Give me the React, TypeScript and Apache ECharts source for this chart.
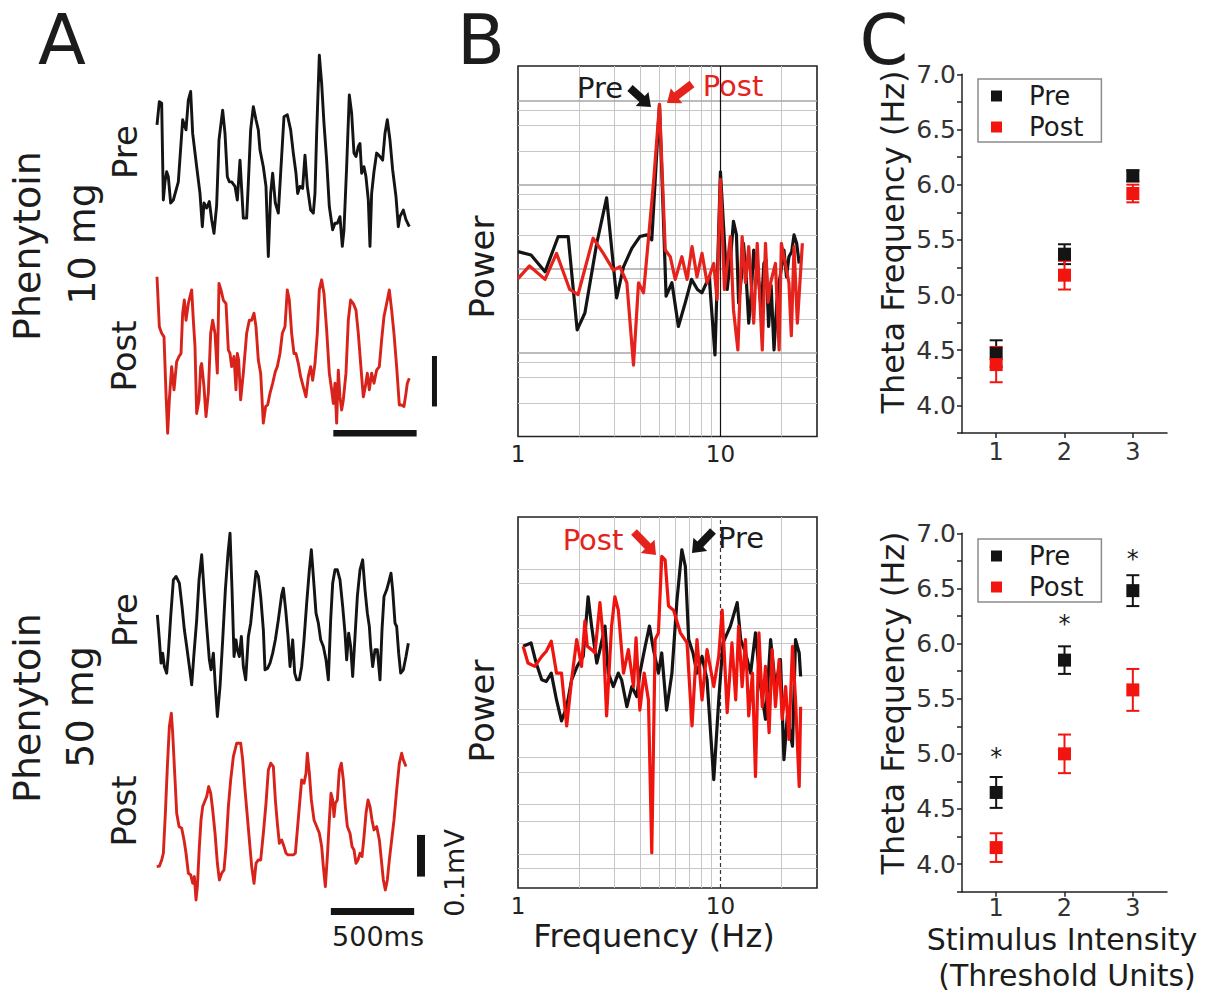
import React, { useEffect, useRef } from 'react';
import * as echarts from 'echarts';

const FONT = 'DejaVu Sans';
const BLACK = '#141414';
const RED_A = '#d8231b';
const RED_B = '#e5221b';
const RED_C = '#f2140f';
const TXT = '#1c1c1c';

// ---------- Panel A : raw field potentials, time (ms) / voltage (µV) ----------
const preTrace10 = [[0,63],[14,109],[28,106],[38,-86],[48,-50],[58,-30],[68,-40],[82,-92],[98,-86],[128,-50],[154,73],[174,53],[188,112],[202,129],[214,46],[238,-20],[258,-73],[272,-139],[282,-92],[298,-102],[314,-89],[328,-125],[342,-152],[358,-96],[372,33],[394,92],[408,46],[422,-40],[434,-50],[448,-50],[468,-59],[482,-86],[498,-7],[518,-122],[538,-122],[548,-53],[562,53],[578,99],[594,73],[608,53],[618,13],[638,-20],[654,-59],[668,-198],[682,-73],[694,-33],[710,-92],[728,-112],[742,-33],[762,79],[782,83],[802,53],[818,7],[834,-33],[844,-73],[858,-59],[874,-63],[888,3],[902,-59],[922,-106],[938,-112],[948,-73],[958,46],[974,201],[988,145],[1002,66],[1018,-7],[1034,-99],[1054,-145],[1068,-132],[1082,-132],[1098,-119],[1112,-178],[1122,-145],[1138,-20],[1154,122],[1168,86],[1182,7],[1194,0],[1208,20],[1218,26],[1228,-33],[1242,-20],[1254,-40],[1268,-86],[1278,-178],[1288,-73],[1302,-30],[1318,7],[1338,0],[1354,-7],[1368,46],[1382,73],[1398,33],[1414,-26],[1434,-79],[1448,-139],[1458,-119],[1478,-106],[1494,-125],[1514,-139]];

const postTrace10 = [[0,155],[14,56],[28,43],[42,36],[54,-76],[64,-155],[74,-89],[88,-23],[102,-69],[118,-13],[132,-3],[144,3],[154,83],[164,109],[174,69],[188,102],[198,116],[208,129],[218,69],[228,17],[238,-116],[252,-89],[262,-23],[268,-17],[282,-63],[294,-122],[308,-76],[322,43],[334,69],[348,43],[362,-36],[372,142],[384,129],[398,109],[414,102],[428,10],[438,3],[448,-23],[462,-3],[474,-69],[482,3],[490,-10],[502,-89],[518,-36],[538,43],[554,69],[568,69],[582,83],[594,56],[608,-10],[622,-36],[638,-135],[652,-102],[664,-99],[678,-76],[694,-56],[710,-33],[722,-23],[738,3],[752,43],[768,56],[782,129],[794,109],[808,43],[822,3],[834,3],[848,-17],[862,-43],[878,-63],[894,-83],[908,-43],[922,-23],[934,-50],[948,-17],[962,43],[974,129],[988,149],[1002,122],[1018,50],[1034,-36],[1048,-69],[1058,-96],[1068,-56],[1078,-135],[1088,-30],[1098,-83],[1108,-109],[1118,-89],[1134,-36],[1148,69],[1162,109],[1178,102],[1194,89],[1208,43],[1222,-17],[1238,-83],[1250,-63],[1262,-36],[1274,-69],[1288,-36],[1302,-56],[1318,-30],[1334,-23],[1348,30],[1362,76],[1378,102],[1394,129],[1408,89],[1422,43],[1438,-23],[1454,-99],[1468,-99],[1482,-102],[1494,-76],[1502,-56],[1514,-46]];

const preTrace50 = [[4,26],[16,-34],[26,-90],[36,-66],[46,-98],[60,-114],[70,-66],[84,22],[100,110],[116,118],[136,102],[152,46],[166,-10],[180,-50],[196,-98],[210,-142],[224,-66],[240,14],[254,110],[270,170],[284,86],[300,-2],[316,-82],[326,-106],[340,-66],[352,-146],[364,-218],[380,-146],[396,-34],[412,86],[428,174],[440,222],[452,86],[464,-74],[476,-34],[484,-58],[496,-74],[508,-26],[520,-98],[534,-130],[550,-26],[564,6],[580,70],[596,130],[610,118],[624,70],[640,-10],[650,-106],[666,-102],[680,-90],[696,-66],[712,-34],[730,14],[750,74],[760,90],[774,38],[788,-26],[800,-98],[816,-34],[828,-114],[840,-130],[856,-130],[870,-98],[884,-34],[900,54],[916,134],[928,182],[940,118],[956,30],[970,6],[984,-34],[1000,-50],[1016,-82],[1030,-130],[1044,14],[1056,102],[1070,134],[1084,134],[1100,110],[1116,46],[1130,-18],[1140,-82],[1152,-18],[1164,-50],[1176,-122],[1190,-26],[1204,70],[1220,134],[1236,158],[1250,86],[1264,30],[1276,-2],[1284,-50],[1296,-98],[1310,-58],[1324,-58],[1340,-130],[1352,-10],[1364,70],[1380,86],[1396,110],[1406,126],[1416,86],[1430,6],[1440,-2],[1452,-66],[1464,-114],[1480,-106],[1496,-74],[1510,-42]];

const postTrace50 = [[0,-146],[16,-145],[30,-130],[40,-114],[52,-18],[64,94],[76,190],[88,222],[96,174],[108,78],[120,-18],[134,-50],[150,-54],[164,-82],[176,-114],[190,-162],[204,-166],[216,-186],[226,-170],[236,-226],[244,-194],[256,-98],[266,-34],[276,-2],[288,10],[300,22],[312,46],[324,30],[336,-10],[350,-66],[364,-138],[376,-178],[390,-162],[404,-154],[416,-98],[430,-2],[444,62],[460,118],[480,150],[504,150],[516,110],[530,38],[544,-26],[556,-82],[570,-146],[584,-186],[596,-138],[610,-130],[624,-130],[640,-66],[656,6],[670,86],[684,102],[700,94],[712,14],[724,-42],[736,-90],[750,-82],[764,-98],[776,-114],[788,-118],[804,-118],[820,-118],[832,-114],[844,-58],[856,-2],[870,62],[884,54],[896,78],[904,126],[916,78],[928,14],[944,-34],[960,-50],[976,-66],[990,-98],[1000,-146],[1012,-194],[1024,-122],[1036,-34],[1046,30],[1056,14],[1064,-26],[1072,6],[1084,14],[1096,86],[1108,102],[1120,62],[1132,-2],[1144,-50],[1160,-66],[1172,-98],[1184,-106],[1196,-138],[1208,-130],[1220,-114],[1232,-122],[1244,-74],[1256,-18],[1268,14],[1280,-2],[1292,-34],[1304,-58],[1320,-50],[1336,-82],[1348,-130],[1360,-178],[1372,-202],[1384,-178],[1396,-130],[1410,-82],[1424,-34],[1440,38],[1456,102],[1470,126],[1480,110],[1496,94]];

// scale bars (ms, µV)
const timeBar10 = [[1058,-155],[1558,-155]];
const voltBar10 = [[1665,-2],[1665,-102]];
const timeBar50 = [[1045,-254],[1545,-254]];
const voltBar50 = [[1586,-70],[1586,-170]];

// ---------- Panel B : power spectra, [frequency Hz, log10 power (a.u.)] ----------
const preSpectrum10 = [[1.0,2.20],[1.16,2.16],[1.36,1.96],[1.58,2.38],[1.77,2.38],[1.96,1.27],[2.14,1.47],[2.45,2.30],[2.74,2.84],[3.07,1.65],[3.32,2.02],[3.65,2.24],[4.0,2.38],[4.33,2.40],[4.58,2.34],[5.0,3.95],[5.39,1.67],[5.76,1.83],[6.2,1.31],[6.7,1.59],[7.2,1.87],[7.7,1.75],[8.1,1.71],[8.8,1.90],[9.4,0.97],[10.0,3.15],[10.8,1.75],[11.2,2.1],[11.6,2.56],[12.0,2.4],[12.3,1.59],[12.7,1.9],[13.0,2.30],[13.4,1.9],[13.8,1.35],[14.2,1.7],[14.6,2.22],[15.0,2.0],[15.5,1.83],[15.9,1.5],[16.4,2.06],[16.8,2.1],[17.3,1.31],[17.8,1.8],[18.4,1.03],[19.0,1.6],[19.5,1.83],[20.0,2.0],[20.6,2.22],[21.2,1.9],[21.8,2.14],[22.5,2.2],[23.1,2.40],[23.8,2.3],[24.5,2.06]];

const postSpectrum10 = [[1.0,1.88],[1.14,2.03],[1.36,1.87],[1.55,2.18],[1.80,1.75],[1.98,1.69],[2.35,2.36],[2.64,2.18],[2.96,1.98],[3.19,2.02],[3.45,1.83],[3.72,0.85],[3.94,1.83],[4.17,1.71],[4.33,2.14],[4.67,3.02],[5.0,3.95],[5.34,2.22],[5.65,2.14],[5.98,1.87],[6.45,2.14],[6.84,1.87],[7.24,2.26],[7.66,1.90],[8.11,2.18],[8.59,1.83],[9.27,2.06],[9.62,1.63],[10.0,3.06],[10.47,1.75],[11.2,2.38],[11.6,1.51],[12.2,1.03],[12.8,2.38],[13.3,1.83],[13.8,2.26],[14.6,1.35],[15.2,2.30],[16.1,1.03],[16.7,2.30],[17.2,1.6],[17.7,1.83],[18.7,2.06],[19.5,1.03],[20.0,2.3],[20.6,2.14],[21.8,1.83],[22.4,1.2],[23.1,2.26],[24.0,1.35],[25.4,2.30]];

const preSpectrum50 = [[1.06,2.88],[1.16,2.92],[1.23,2.68],[1.31,2.48],[1.38,2.46],[1.46,2.56],[1.55,2.24],[1.64,1.99],[1.74,2.16],[1.84,2.48],[1.96,2.64],[2.10,2.76],[2.22,3.47],[2.31,3.12],[2.45,2.68],[2.54,2.84],[2.69,3.12],[2.79,2.56],[2.96,2.40],[3.13,2.56],[3.25,2.48],[3.45,2.16],[3.65,2.40],[3.86,2.28],[4.0,2.56],[4.25,2.88],[4.46,3.12],[4.67,2.84],[4.94,2.56],[5.13,2.80],[5.42,2.12],[5.76,2.56],[6.10,3.43],[6.45,4.03],[6.71,3.83],[6.97,2.96],[7.32,2.80],[7.66,2.56],[8.11,2.76],[8.59,2.48],[9.27,1.29],[9.81,2.24],[10.3,2.92],[11.2,3.12],[12.1,3.40],[12.6,2.96],[13.3,2.80],[14.1,2.56],[14.9,3.04],[15.8,2.40],[16.7,2.01],[17.7,2.96],[18.7,2.40],[19.8,2.72],[20.6,1.53],[21.4,2.05],[22.7,1.69],[23.5,2.96],[24.5,2.80],[24.9,2.52]];

const postSpectrum50 = [[1.06,2.88],[1.12,2.68],[1.21,2.64],[1.31,2.76],[1.38,2.82],[1.46,2.94],[1.55,2.56],[1.64,2.56],[1.74,1.93],[1.84,2.48],[1.95,2.96],[2.06,2.64],[2.14,3.18],[2.20,2.88],[2.31,2.84],[2.40,2.80],[2.54,3.40],[2.64,2.96],[2.74,2.05],[2.90,3.12],[3.01,3.47],[3.13,3.31],[3.32,2.56],[3.51,2.84],[3.72,2.40],[3.83,2.98],[4.0,2.12],[4.20,2.56],[4.41,2.24],[4.58,0.42],[4.76,2.96],[4.94,3.04],[5.13,3.95],[5.33,3.91],[5.54,3.36],[5.87,3.31],[6.34,3.04],[6.84,2.92],[7.24,1.93],[7.66,2.96],[8.11,2.24],[8.59,2.84],[9.27,2.40],[9.81,2.76],[10.2,3.31],[10.8,2.09],[11.4,2.92],[11.9,2.24],[12.3,3.12],[12.8,2.40],[13.3,2.96],[13.8,2.05],[14.4,2.56],[14.9,1.33],[15.5,3.04],[16.1,2.16],[16.7,2.64],[17.4,1.85],[18.0,2.84],[18.7,2.16],[19.5,2.72],[20.2,2.01],[21.0,2.40],[21.8,1.77],[22.7,2.88],[23.5,2.24],[24.5,1.21],[24.9,2.16]];

// gridline levels of the spectra plots
const freqGridHz = [2, 3, 4, 5, 6, 7, 8, 9, 20];
const freqMarkHz = 10;
const powerMinorTop = [0.398, 0.699, 0.875, 1.398, 1.699, 1.875, 2.398, 2.699, 2.875, 3.398, 3.699, 3.875];
const powerMajorTop = [1, 2, 3, 4];
const powerGridBottom = [0.24, 0.40, 0.80, 1.0, 1.375, 1.56, 1.95, 2.13, 2.53, 2.92, 3.09, 3.25, 3.63, 3.80];

// ---------- Panel C : theta frequency (Hz) vs stimulus intensity ----------
const intensity = [1, 2, 3];
const pre10Hz = [4.47, 5.37, 6.08];
const pre10Err = [0.12, 0.09, 0.05];
const post10Hz = [4.37, 5.18, 5.92];
const post10Err = [0.16, 0.13, 0.08];
const pre50Hz = [4.65, 5.85, 6.48];
const pre50Err = [0.14, 0.125, 0.14];
const post50Hz = [4.15, 5.00, 5.58];
const post50Err = [0.13, 0.175, 0.19];
const starLevels50 = [5.02, 6.22, 6.81];

function txt(text: string, x: number, y: number, size: number, color = TXT, rot = 0, lineHeight?: number) {
  return {
    type: 'text', x, y, rotation: rot, z: 100,
    style: { text, fontSize: size, fontFamily: FONT, fill: color, align: 'center', verticalAlign: 'middle', lineHeight: lineHeight ?? size },
  };
}

function arrow(x0: number, y0: number, x1: number, y1: number, color: string) {
  const dx = x1 - x0, dy = y1 - y0;
  const len = Math.hypot(dx, dy);
  const ux = dx / len, uy = dy / len;
  const nx = -uy, ny = ux;
  const shaft = 8, head = 19, headL = 12;
  const bx = x1 - ux * headL, by = y1 - uy * headL;
  const pts = [
    [x0 + nx * shaft / 2, y0 + ny * shaft / 2],
    [bx + nx * shaft / 2, by + ny * shaft / 2],
    [bx + nx * head / 2, by + ny * head / 2],
    [x1, y1],
    [bx - nx * head / 2, by - ny * head / 2],
    [bx - nx * shaft / 2, by - ny * shaft / 2],
    [x0 - nx * shaft / 2, y0 - ny * shaft / 2],
  ];
  return { type: 'polygon', z: 100, shape: { points: pts }, style: { fill: color } };
}

function traceSeries(name: string, idx: number, data: number[][], color: string, width = 2.9) {
  return {
    name, type: 'line', xAxisIndex: idx, yAxisIndex: idx, data, showSymbol: false, symbol: 'none',
    clip: false, z: 3, lineStyle: { color, width, join: 'round' }, emphasis: { disabled: true },
  };
}

function gridMarkLines(minor: number[], major: number[], tenStyle: any) {
  const minorStyle = { color: '#c6c6c6', width: 1, type: 'solid' };
  const majorStyle = { color: '#a6a6a6', width: 1.6, type: 'solid' };
  return {
    silent: true, symbol: ['none', 'none'], z: 1, label: { show: false }, emphasis: { disabled: true },
    data: [
      ...freqGridHz.map((f) => ({ xAxis: f, lineStyle: minorStyle })),
      ...minor.map((v) => ({ yAxis: v, lineStyle: minorStyle })),
      ...major.map((v) => ({ yAxis: v, lineStyle: majorStyle })),
      { xAxis: freqMarkHz, lineStyle: tenStyle },
    ],
  };
}

function errorBars(name: string, idx: number, vals: number[], errs: number[], color: string) {
  return {
    name, type: 'custom', xAxisIndex: idx, yAxisIndex: idx, z: 3,
    data: intensity.map((x, i) => [x, vals[i], errs[i]]),
    encode: { x: 0, y: 1 },
    renderItem: (_p: any, api: any) => {
      const x = api.value(0), y = api.value(1), e = api.value(2);
      const a = api.coord([x, y + e]);
      const b = api.coord([x, y - e]);
      const c = 6.5;
      const st = { stroke: color, lineWidth: 2 };
      return {
        type: 'group',
        children: [
          { type: 'line', shape: { x1: a[0], y1: a[1], x2: b[0], y2: b[1] }, style: st },
          { type: 'line', shape: { x1: a[0] - c, y1: a[1], x2: a[0] + c, y2: a[1] }, style: st },
          { type: 'line', shape: { x1: b[0] - c, y1: b[1], x2: b[0] + c, y2: b[1] }, style: st },
        ],
      };
    },
  };
}

function squares(name: string, idx: number, vals: number[], color: string) {
  return {
    name, type: 'scatter', xAxisIndex: idx, yAxisIndex: idx, z: 4, symbol: 'rect', symbolSize: 13,
    itemStyle: { color, opacity: 1 }, emphasis: { disabled: true },
    data: intensity.map((x, i) => [x, vals[i]]),
  };
}

function buildOption() {
  const hiddenX = (gridIndex: number) => ({ type: 'value', gridIndex, min: 0, max: 1700, show: false });
  const hiddenY = (gridIndex: number, m: number) => ({ type: 'value', gridIndex, min: -m, max: m, show: false });
  const logX = (gridIndex: number) => ({
    type: 'log', logBase: 10, gridIndex, min: 1, max: 30,
    axisLine: { show: false }, axisTick: { show: false }, splitLine: { show: false },
    axisLabel: {
      fontSize: 23, fontFamily: FONT, color: '#222', margin: 6,
      formatter: (v: number) => (Math.abs(v - 1) < 1e-6 ? '1' : Math.abs(v - 10) < 1e-6 ? '10' : ''),
    },
  });
  const powerY = (gridIndex: number, max: number) => ({ type: 'value', gridIndex, min: 0, max, show: false });
  const cX = (gridIndex: number, margin: number) => ({
    type: 'value', gridIndex, min: 0.5, max: 3.5, interval: 0.5,
    axisLine: { show: true, onZero: false, lineStyle: { color: '#222', width: 1.5 } },
    axisTick: { show: true, length: 5, customValues: intensity, lineStyle: { color: '#222', width: 1.5 } },
    splitLine: { show: false },
    axisLabel: {
      fontSize: 24, lineHeight: 18, fontFamily: FONT, color: '#333', margin,
      formatter: (v: number) => (Math.abs(v - Math.round(v)) < 1e-6 ? String(Math.round(v)) : ''),
    },
  });
  const cY = (gridIndex: number) => ({
    type: 'value', gridIndex, min: 3.75, max: 7.0, interval: 0.25,
    axisLine: { show: true, onZero: false, lineStyle: { color: '#222', width: 1.5 } },
    axisTick: { show: true, length: 5, lineStyle: { color: '#222', width: 1.5 } },
    splitLine: { show: false },
    axisLabel: {
      fontSize: 25, fontFamily: FONT, color: '#333', margin: 6,
      formatter: (v: number) => (v > 3.9 && Math.abs(v * 2 - Math.round(v * 2)) < 1e-6 ? v.toFixed(1) : ''),
    },
  });

  const legendC = (top: number) => ({
    orient: 'vertical', left: 978, top, selectedMode: false,
    data: [{ name: 'Pre', icon: 'rect' }, { name: 'Post', icon: 'rect' }],
    itemWidth: 11, itemHeight: 11, itemGap: 5,
    padding: [4, 18, 2, 13],
    borderColor: '#8c8c8c', borderWidth: 1.5,
    textStyle: { fontSize: 26, fontFamily: FONT, color: TXT, lineHeight: 26, padding: [0, 0, 0, 22] },
  });

  const boxB = { show: true, borderColor: '#222', borderWidth: 1.6, backgroundColor: 'transparent' };

  return {
    animation: false,
    backgroundColor: '#ffffff',
    textStyle: { fontFamily: FONT },
    grid: [
      { left: 157, top: 45.6, width: 283.3, height: 222 },
      { left: 157, top: 244, width: 283.3, height: 222 },
      { left: 156.7, top: 517.3, width: 283.3, height: 216.7 },
      { left: 156.7, top: 697.4, width: 283.3, height: 216.7 },
      { left: 518, top: 66, width: 299, height: 370.5, ...boxB },
      { left: 518, top: 517, width: 299, height: 371, ...boxB },
      { left: 962, top: 74.3, width: 205, height: 358.7 },
      { left: 962, top: 533.3, width: 205, height: 358.4 },
    ],
    xAxis: [hiddenX(0), hiddenX(1), hiddenX(2), hiddenX(3), logX(4), logX(5), cX(6, 10), cX(7, 7)],
    yAxis: [hiddenY(0, 220), hiddenY(1, 220), hiddenY(2, 260), hiddenY(3, 260), powerY(4, 4.41), powerY(5, 4.42), cY(6), cY(7)],
    legend: [legendC(79), legendC(539)],
    series: [
      traceSeries('Pre trace, 10 mg', 0, preTrace10, BLACK),
      traceSeries('Post trace, 10 mg', 1, postTrace10, RED_A),
      traceSeries('Pre trace, 50 mg', 2, preTrace50, BLACK),
      traceSeries('Post trace, 50 mg', 3, postTrace50, RED_A),
      traceSeries('100 µV bar, 10 mg', 1, voltBar10, BLACK, 5),
      traceSeries('500 ms bar, 10 mg', 1, timeBar10, BLACK, 6.5),
      traceSeries('100 µV bar, 50 mg', 3, voltBar50, BLACK, 8),
      traceSeries('500 ms bar, 50 mg', 3, timeBar50, BLACK, 7),
      {
        ...traceSeries('Pre spectrum, 10 mg', 4, preSpectrum10, BLACK, 3.2),
        markLine: gridMarkLines(powerMinorTop, powerMajorTop, { color: '#111', width: 1.2, type: 'solid' }),
      },
      traceSeries('Post spectrum, 10 mg', 4, postSpectrum10, RED_B, 3.2),
      {
        ...traceSeries('Pre spectrum, 50 mg', 5, preSpectrum50, BLACK, 3.2),
        markLine: gridMarkLines(powerGridBottom, [], { color: '#333', width: 1.2, type: [4, 3] }),
      },
      traceSeries('Post spectrum, 50 mg', 5, postSpectrum50, '#f0140f', 3.2),
      errorBars('Pre SEM, 10 mg', 6, pre10Hz, pre10Err, BLACK),
      errorBars('Post SEM, 10 mg', 6, post10Hz, post10Err, RED_C),
      squares('Pre', 6, pre10Hz, BLACK),
      squares('Post', 6, post10Hz, RED_C),
      errorBars('Pre SEM, 50 mg', 7, pre50Hz, pre50Err, BLACK),
      errorBars('Post SEM, 50 mg', 7, post50Hz, post50Err, RED_C),
      squares('Pre', 7, pre50Hz, BLACK),
      squares('Post', 7, post50Hz, RED_C),
      {
        name: 'Significance', type: 'scatter', xAxisIndex: 7, yAxisIndex: 7, symbolSize: 0, z: 5,
        itemStyle: { opacity: 1 },
        data: intensity.map((x, i) => [x, starLevels50[i]]),
        label: { show: true, position: 'inside', formatter: '*', fontSize: 24, fontFamily: FONT, color: '#1c1c1c', offset: [0, 5] },
        emphasis: { disabled: true },
      },
    ],
    graphic: [
      txt('A', 62, 40, 70, TXT, 0, 56),
      txt('B', 481, 40, 70, TXT, 0, 56),
      txt('C', 884, 40, 70, TXT, 0, 56),
      txt('Phenytoin', 27, 246, 38, TXT, Math.PI / 2),
      txt('10 mg', 82, 244, 38, TXT, Math.PI / 2),
      txt('Phenytoin', 27, 708, 38, TXT, Math.PI / 2),
      txt('50 mg', 80, 707, 38, TXT, Math.PI / 2),
      txt('Pre', 125, 152, 34, TXT, Math.PI / 2),
      txt('Post', 124, 356, 34, TXT, Math.PI / 2),
      txt('Pre', 125, 620, 34, TXT, Math.PI / 2),
      txt('Post', 124, 811, 34, TXT, Math.PI / 2),
      txt('500ms', 378, 936.5, 27),
      txt('0.1mV', 454, 873, 27, TXT, Math.PI / 2),
      txt('Power', 481.5, 267, 34, TXT, Math.PI / 2),
      txt('Power', 481.5, 711, 34, TXT, Math.PI / 2),
      txt('Frequency (Hz)', 654, 936, 32),
      txt('Pre', 600, 87.5, 29),
      txt('Post', 733, 86, 29, RED_B),
      arrow(630, 88, 651, 107, BLACK),
      arrow(692, 84, 667, 103, RED_B),
      txt('Post', 593, 540, 29, RED_B),
      txt('Pre', 741, 538, 29),
      arrow(634, 532, 656, 555, RED_B),
      arrow(713, 531, 692, 553, BLACK),
      txt('Theta Frequency (Hz)', 893, 242, 32, TXT, Math.PI / 2),
      txt('Theta Frequency (Hz)', 893, 703, 32, TXT, Math.PI / 2),
      txt('Stimulus Intensity', 1062, 939, 30, TXT, 0, 26),
      txt('(Threshold Units)', 1067, 975, 30, TXT, 0, 26),
    ],
  };
}

export default function App() {
  const ref = useRef<HTMLDivElement>(null);
  useEffect(() => {
    const chart = echarts.init(ref.current as HTMLDivElement, undefined, { renderer: 'svg' });
    chart.setOption(buildOption() as any);
    return () => chart.dispose();
  }, []);
  return (
    <div
      ref={ref}
      style={{ position: 'fixed', left: 0, top: 0, width: 1214, height: 998, background: '#ffffff' }}
    />
  );
}
